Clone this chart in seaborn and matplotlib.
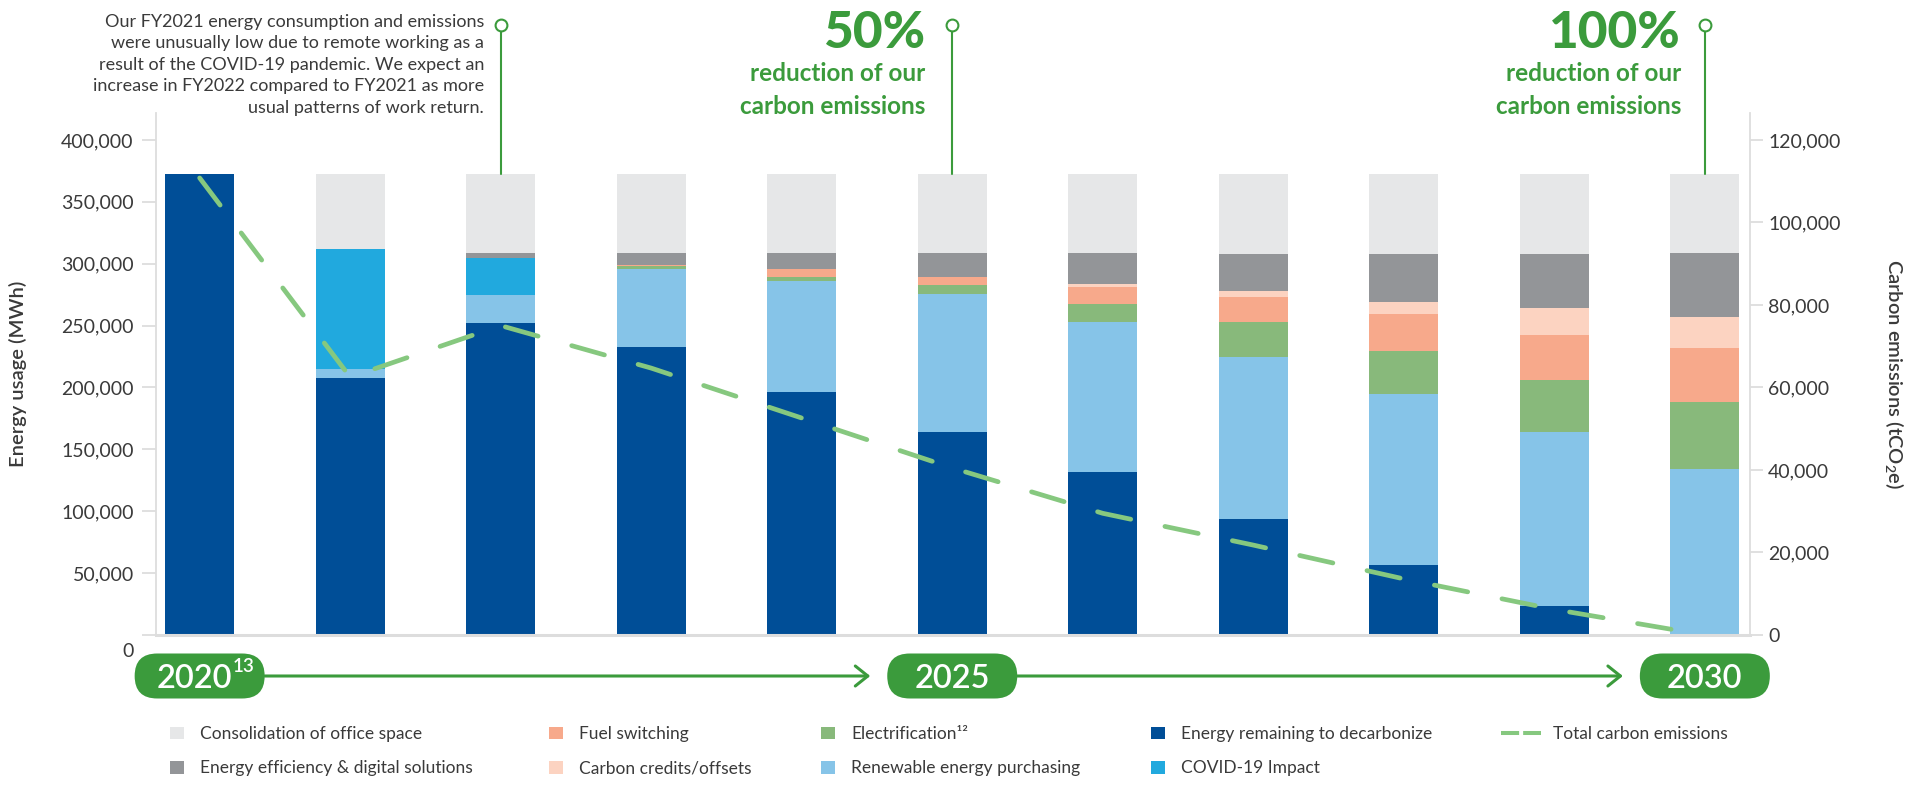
import numpy as np
import pandas as pd
import matplotlib
matplotlib.use("Agg")
import matplotlib.pyplot as plt
import seaborn as sns
from matplotlib.patches import FancyBboxPatch, Patch
from matplotlib.lines import Line2D
from matplotlib.ticker import FixedLocator, FuncFormatter
from matplotlib.transforms import ScaledTranslation

# ---------------- data ----------------
years = ["2020", "2021", "2022", "2023", "2024", "2025", "2026", "2027", "2028", "2029", "2030"]
energy_remaining = [372500, 207700, 252100, 232700, 196300, 164000, 131700, 93700, 56600, 23400, 0]
renewable_purchasing = [0, 7300, 22600, 63300, 89700, 111500, 121200, 130900, 138200, 140600, 134100]
electrification = [0, 0, 0, 1900, 3200, 7300, 14500, 28300, 34700, 42000, 54100]
fuel_switching = [0, 0, 0, 1100, 6500, 6500, 13700, 20200, 29900, 36400, 43600]
carbon_credits = [0, 0, 0, 0, 0, 0, 2400, 4800, 9700, 21800, 25000]
covid_impact = [0, 97000, 29900, 0, 0, 0, 0, 0, 0, 0, 0]
energy_efficiency = [0, 0, 3800, 9700, 12900, 19400, 25000, 29900, 38800, 43600, 51700]
consolidation = [0, 60600, 64100, 63800, 63800, 63800, 63800, 64600, 64600, 64600, 63800]
carbon_emissions = [110800, 62500, 75000, 64700, 52600, 40500, 29500, 21800, 13600, 6200, 0]

left_ticks = [0, 50000, 100000, 150000, 200000, 250000, 300000, 350000, 400000]
right_ticks = [0, 20000, 40000, 60000, 80000, 100000, 120000]
milestones = [0, 5, 10]          # bar indices carrying a year pill
callouts = [2, 5, 10]            # bar indices with a callout line

note_text = ("Our FY2021 energy consumption and emissions\n"
             "were unusually low due to remote working as a\n"
             "result of the COVID-19 pandemic. We expect an\n"
             "increase in FY2022 compared to FY2021 as more\n"
             "usual patterns of work return.")

LBL_CONS = "Consolidation of office space"
LBL_EFF = "Energy efficiency & digital solutions"
LBL_FUEL = "Fuel switching"
LBL_CRED = "Carbon credits/offsets"
LBL_ELEC = "Electrification\u00b9\u00b2"
LBL_REN = "Renewable energy purchasing"
LBL_REM = "Energy remaining to decarbonize"
LBL_COV = "COVID-19 Impact"
LBL_TOT = "Total carbon emissions"

palette = {
    LBL_CONS: "#e6e7e8",
    LBL_EFF: "#939598",
    LBL_COV: "#21a9de",
    LBL_CRED: "#fcd3c1",
    LBL_FUEL: "#f7a98b",
    LBL_ELEC: "#88b97b",
    LBL_REN: "#86c4e8",
    LBL_REM: "#004e97",
}
LINE_COLOR = "#86c87f"
GREEN = "#3b9b3c"
TEXT = "#3a3a3a"
SPINE = "#dddddd"

# stacking order (top -> bottom, seaborn stacks last level at the bottom)
series = [
    (LBL_CONS, consolidation),
    (LBL_EFF, energy_efficiency),
    (LBL_COV, covid_impact),
    (LBL_CRED, carbon_credits),
    (LBL_FUEL, fuel_switching),
    (LBL_ELEC, electrification),
    (LBL_REN, renewable_purchasing),
    (LBL_REM, energy_remaining),
]
rows = []
for name, vals in series:
    for i, v in enumerate(vals):
        rows.append((i, name, v))
df = pd.DataFrame(rows, columns=["year_idx", "series", "value"])

# ---------------- style ----------------
sns.set_style("white")
plt.rcParams["font.family"] = ["Lato", "DejaVu Sans"]
plt.rcParams["mathtext.fontset"] = "custom"
plt.rcParams["mathtext.rm"] = "Lato"
plt.rcParams["mathtext.it"] = "Lato:italic"
plt.rcParams["mathtext.bf"] = "Lato:bold"

W, H, DPI = 1925, 785, 100
fig = plt.figure(figsize=(W / DPI, H / DPI), dpi=DPI)
AX_L, AX_R, AX_T, AX_B = 156, 1750, 113, 635
ax = fig.add_axes([AX_L / W, 1 - AX_B / H, (AX_R - AX_L) / W, (AX_B - AX_T) / H])

YMAX = 421800
sns.histplot(data=df, x="year_idx", weights="value", hue="series",
             hue_order=[s[0] for s in series], multiple="stack", discrete=True,
             shrink=0.458, palette=palette, alpha=1, linewidth=0, edgecolor="none",
             legend=False, ax=ax)
ax.set_xlim(-0.29, 10.30)
ax.set_ylim(0, YMAX)
ax.set_xticks([])
ax.set_xlabel("")
ax.yaxis.set_major_locator(FixedLocator(left_ticks))
ax.yaxis.set_major_formatter(FuncFormatter(lambda v, p: f"{v:,.0f}"))
ax.tick_params(axis="y", which="major", length=10, width=1.3, color=SPINE,
               labelsize=14, labelcolor=TEXT, pad=6, left=True, direction="out")
for s in ["top", "right"]:
    ax.spines[s].set_visible(False)
ax.spines["left"].set_color(SPINE)
ax.spines["left"].set_linewidth(1.3)
ax.spines["bottom"].set_color(SPINE)
ax.spines["bottom"].set_linewidth(2.2)
ax.set_ylabel("Energy usage (MWh)", fontsize=14.5, fontweight="semibold", color=TEXT)
ax.yaxis.set_label_coords((18 - AX_L) / (AX_R - AX_L), 0.5)
ax.yaxis.label.set_va("center")
# shift the "0" label below the baseline like the original
t0 = ax.yaxis.get_major_ticks()[0]
t0.label1.set_transform(t0.label1.get_transform() + ScaledTranslation(0, -15 / DPI, fig.dpi_scale_trans))

# carbon line on right axis
ax2 = ax.twinx()
sns.lineplot(x=list(range(len(years))), y=carbon_emissions, ax=ax2, color=LINE_COLOR,
             linewidth=3.4, linestyle=(0, (7.2, 7.4)), dash_capstyle="round")
ax2.set_xlim(-0.29, 10.30)
ax2.set_ylim(0, YMAX * 0.3)
ax2.yaxis.set_major_locator(FixedLocator(right_ticks))
ax2.yaxis.set_major_formatter(FuncFormatter(lambda v, p: f"{v:,.0f}"))
ax2.tick_params(axis="y", which="major", length=9, width=1.3, color=SPINE,
                labelsize=14, labelcolor=TEXT, pad=4, right=True, direction="out")
for s in ["top", "left", "bottom"]:
    ax2.spines[s].set_visible(False)
ax2.spines["right"].set_color(SPINE)
ax2.spines["right"].set_linewidth(1.3)
ax2.set_ylabel(r"Carbon emissions (tCO$\mathregular{_2}$e)", fontsize=14.5,
               fontweight="semibold", color=TEXT, rotation=270)
ax2.yaxis.set_label_coords((1895 - AX_L) / (AX_R - AX_L), 0.5)
ax2.yaxis.label.set_va("center")

# ---------------- callouts ----------------
totals = np.sum([v for _, v in series], axis=0)
y_circle = (AX_B - 25) / (AX_B - AX_T) * YMAX
for i in callouts:
    ax.plot([i, i], [totals[i], y_circle], color=GREEN, lw=1.5, clip_on=False, zorder=5)
    ax.plot([i], [y_circle], marker="o", ms=8.5, mfc="white", mec=GREEN, mew=1.5,
            clip_on=False, zorder=6)

def fx(px):
    return px / W

def fy(py):
    return 1 - py / H

fig.text(fx(484), fy(14), note_text, ha="right", va="top", fontsize=13, color=TEXT,
         linespacing=1.42)
for big, xr in [("50%", 925), ("100%", 1681)]:
    fig.text(fx(xr), fy(48), big, ha="right", va="baseline", fontsize=37,
             fontweight="black", color=GREEN)
    fig.text(fx(xr), fy(81), "reduction of our", ha="right", va="baseline",
             fontsize=17.5, fontweight="bold", color=GREEN)
    fig.text(fx(xr), fy(114), "carbon emissions", ha="right", va="baseline",
             fontsize=17.5, fontweight="bold", color=GREEN)

# ---------------- timeline pills ----------------
PILL_W, PILL_H, PILL_Y = 130, 45, 676
centers = [ax.transData.transform((i, 0))[0] for i in milestones]
for k, (i, cx) in enumerate(zip(milestones, centers)):
    box = FancyBboxPatch(((cx - PILL_W / 2) / DPI, (H - PILL_Y - PILL_H / 2) / DPI),
                         PILL_W / DPI, PILL_H / DPI,
                         boxstyle=f"round,pad=0,rounding_size={PILL_H / 2 / DPI}",
                         transform=fig.dpi_scale_trans, facecolor=GREEN, edgecolor="none")
    fig.add_artist(box)
    if k == 0:
        fig.text(fx(cx + 32), fy(PILL_Y), years[i], ha="right", va="center_baseline",
                 fontsize=23.5, fontweight="semibold", color="white")
        fig.text(fx(cx + 33), fy(PILL_Y - 4), "13", ha="left", va="baseline",
                 fontsize=13.5, fontweight="semibold", color="white")
    else:
        fig.text(fx(cx), fy(PILL_Y), years[i], ha="center", va="center_baseline",
                 fontsize=23.5, fontweight="semibold", color="white")
for a, b in zip(centers[:-1], centers[1:]):
    fig.add_artist(plt.Annotation("", xy=(b - PILL_W / 2 - 17, H - PILL_Y), xycoords="figure pixels",
                                  xytext=(a + PILL_W / 2, H - PILL_Y), textcoords="figure pixels",
                                  arrowprops=dict(arrowstyle="->,head_length=0.45,head_width=0.36",
                                                  mutation_scale=20, lw=2.2, color=GREEN,
                                                  shrinkA=0, shrinkB=0)))

# ---------------- legend ----------------
def patch(lbl):
    return Patch(facecolor=palette[lbl], edgecolor="none", label=lbl)

legend_cols = [
    (170, [patch(LBL_CONS), patch(LBL_EFF)]),
    (549, [patch(LBL_FUEL), patch(LBL_CRED)]),
    (821, [patch(LBL_ELEC), patch(LBL_REN)]),
    (1151, [patch(LBL_REM), patch(LBL_COV)]),
    (1501, [Line2D([], [], color=LINE_COLOR, lw=2.9, linestyle=(0, (4.5, 1.0)),
                   solid_capstyle="butt", dash_capstyle="butt", label=LBL_TOT)]),
]
for xpx, handles in legend_cols:
    is_line = isinstance(handles[0], Line2D)
    leg = fig.legend(handles=handles, loc="upper left", bbox_to_anchor=(fx(xpx), fy(726)),
                     frameon=False, fontsize=12.5, borderpad=0, borderaxespad=0,
                     handlelength=2.3 if is_line else 0.78, handleheight=0.76,
                     handletextpad=0.69 if is_line else 0.95, labelspacing=1.05)
    for t in leg.get_texts():
        t.set_color(TEXT)

fig.savefig("out.png", dpi=DPI)
